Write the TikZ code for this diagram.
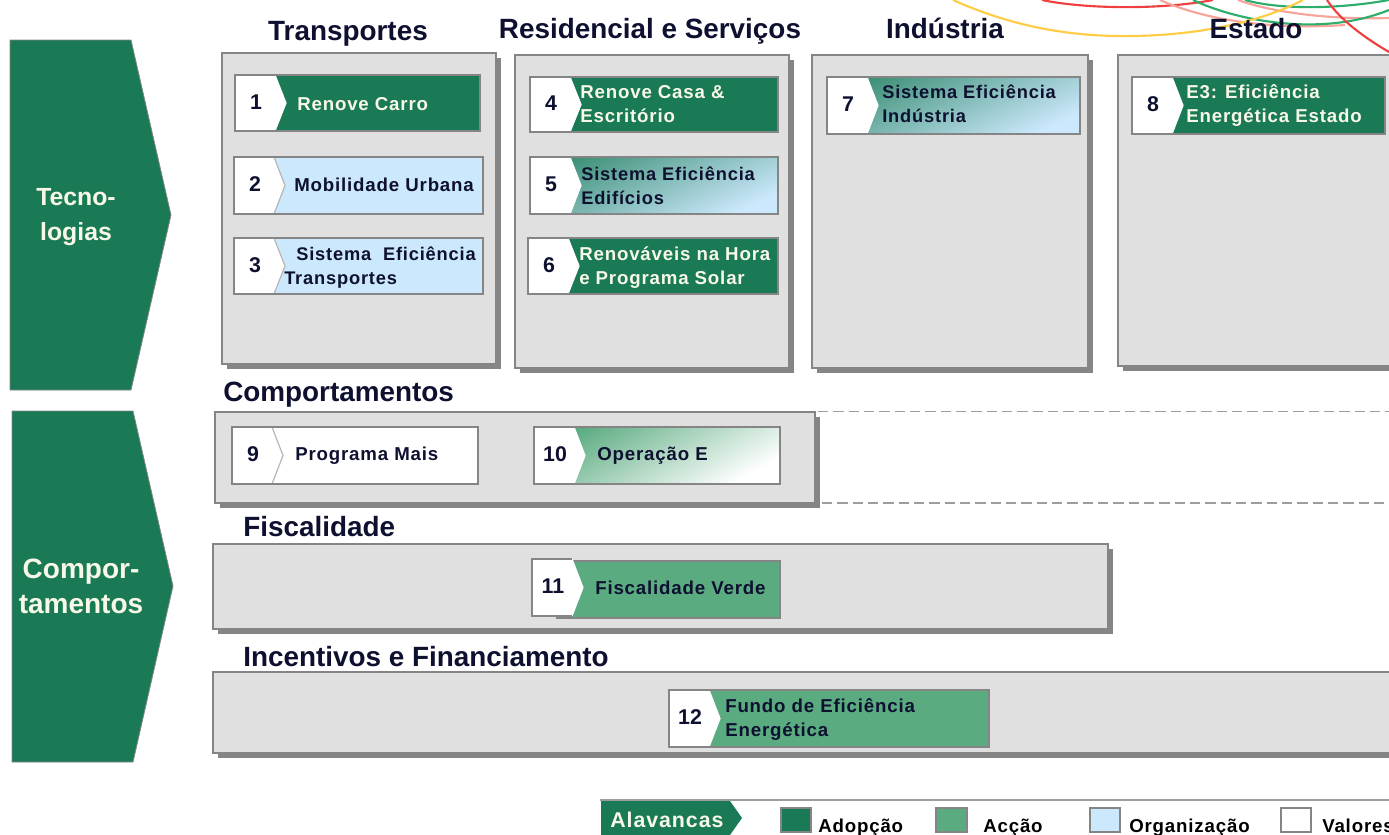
\documentclass[tikz,border=0pt]{standalone}
\usepackage{fontspec}
\setmainfont{Liberation Sans}
\newfontfamily\rotulofont{Liberation Sans}[LetterSpace=4.5]
\usetikzlibrary{shadows}

\definecolor{verdeadocao}{HTML}{1A7A55}
\definecolor{verdeaccao}{HTML}{5AAB80}
\definecolor{azulorg}{HTML}{CBE8FC}
\definecolor{cinzapainel}{HTML}{E0E0E0}
\definecolor{cinzaborda}{HTML}{858585}
\definecolor{tintaescura}{HTML}{0E1030}
\definecolor{tintaclara}{HTML}{F8F8E8}
\definecolor{curvaverde}{HTML}{2EAD6B}
\definecolor{curvavermelha}{HTML}{EE4040}
\definecolor{curvarosa}{HTML}{F7A59A}
\definecolor{curvaamarela}{HTML}{FFCC44}

\tikzset{
	painel/.style = {draw=cinzaborda, line width=1.2pt, fill=cinzapainel, inner sep=0pt, outer sep=0pt,
		general shadow={fill=cinzaborda, shadow xshift=3.4pt, shadow yshift=-3.4pt}},
	caixa/.style = {inner sep=0pt, outer sep=0pt},
	adopcao/.style = {caixa, fill=verdeadocao},
	accao/.style = {caixa, fill=verdeaccao},
	organizacao/.style = {caixa, fill=azulorg},
	valores/.style = {caixa, fill=white},
	misto/.style = {caixa, top color=verdeadocao!80!azulorg, middle color=azulorg!75!verdeadocao, bottom color=azulorg, shading angle=25},
	esbatido/.style = {caixa, top color=verdeaccao, bottom color=white, shading angle=30},
	contorno/.style = {draw=cinzaborda, line width=1pt},
	numero/.style = {font=\fontsize{16pt}{18pt}\bfseries\selectfont, text=tintaescura, inner sep=0pt},
	claro/.style = {font=\rotulofont\fontsize{14pt}{18pt}\bfseries\selectfont, text=tintaclara, anchor=west, align=left, inner sep=0pt},
	escuro/.style = {claro, text=tintaescura},
	estreito/.style = {escuro, font=\rotulofont\fontsize{13.7pt}{18pt}\bfseries\selectfont},
	titulo/.style = {font=\fontsize{20.9pt}{24pt}\bfseries\selectfont, text=tintaescura, inner sep=0pt, text height=15pt, text depth=4pt},
	eixo/.style = {text=tintaclara, align=center, inner sep=0pt},
	legenda/.style = {font=\rotulofont\fontsize{14pt}{18pt}\bfseries\selectfont, text=black, anchor=base west, inner sep=0pt},
	curva/.style = {line width=1.6pt},
	tracejado/.style = {draw=cinzaborda!80, line width=1.3pt, dash pattern=on 7.8pt off 3.7pt}
}

% caixa por cantos: estilo, nome, x1, y1, x2, y2
\newcommand{\caixaem}[6]{
	\node[#1, minimum width={(#5-#3)*0.75pt}, minimum height={(#6-#4)*0.75pt}] (#2) at ({(#3+#5)/2},{(#4+#6)/2}) {};
}
% etiqueta branca: nome, numero, x1, y1, y2, cor do bico
\newcommand{\etiqueta}[6]{
	\fill[white] (#3,#4) -- ({#3+40},#4) -- ({#3+51},{(#4+#5)/2}) -- ({#3+40},#5) -- (#3,#5) -- cycle;
	\draw[#6, line width=0.9pt] ({#3+40},#4) -- ({#3+51},{(#4+#5)/2}) -- ({#3+40},#5);
	\node[numero] (#1) at ({#3+21},{(#4+#5)/2-1}) {#2};
}
\newcommand{\alavanca}[7]{
	\caixaem{#1}{a#2}{#3}{#4}{#5}{#6}
	\etiqueta{n#2}{#2}{#3}{#4}{#6}{#7}
	\draw[contorno] (a#2.north west) rectangle (a#2.south east);
}

\begin{document}
\begin{tikzpicture}[x=0.75pt, y=-0.75pt]
	\path[use as bounding box, clip] (0,0) rectangle (1389,835);

	% curvas no topo
	\draw[curva, curvavermelha] (1042,0) .. controls (1085,9) and (1160,10) .. (1213,0);
	\draw[curva, curvarosa] (1160,0) .. controls (1205,20) and (1270,30) .. (1345,25);
	\draw[curva, curvarosa] (1238,0) .. controls (1270,12) and (1330,20) .. (1389,18);
	\draw[curva, curvaverde] (1193,0) .. controls (1235,20) and (1320,38) .. (1389,10);
	\draw[curva, curvaverde] (1245,0) .. controls (1280,10) and (1340,9) .. (1389,0);
	\draw[curva, curvaamarela] (953,0) .. controls (1020,30) and (1080,37) .. (1135,36) .. controls (1190,35) and (1255,25) .. (1303,0);
	\draw[curva, curvavermelha] (1327,0) .. controls (1340,20) and (1365,38) .. (1389,52);

	% eixos
	\fill[verdeadocao, draw=cinzaborda, line width=0.6pt] (10,40) -- (131,40) -- (171,215) -- (131,390) -- (10,390) -- cycle;
	\fill[verdeadocao, draw=cinzaborda, line width=0.6pt] (12,411) -- (133,411) -- (173,586) -- (133,762) -- (12,762) -- cycle;
	\node[eixo, font=\fontsize{18.6pt}{26.2pt}\bfseries\selectfont] (tec) at (76,217) {Tecno-\\logias};
	\node[eixo, font=\fontsize{21pt}{26.2pt}\bfseries\selectfont] (com) at (81,586) {Compor-\\tamentos};

	% titulos
	\node[titulo] (tTrans) at (348,33.5) {Transportes};
	\node[titulo] (tResid) at (650,31.5) {Residencial e Serviços};
	\node[titulo] (tInd) at (945,31) {Indústria};
	\node[titulo] (tEst) at (1256,31) {Estado};
	\node[titulo, anchor=west] (tComp) at (223,394) {Comportamentos};
	\node[titulo, anchor=west] (tFisc) at (243,529) {Fiscalidade};
	\node[titulo, anchor=west] (tInc) at (243,659) {Incentivos e Financiamento};

	% tracejados
	\coordinate (iniA) at (818,411.5);
	\coordinate (fimA) at (1389,411.5);
	\coordinate (iniB) at (822,503);
	\coordinate (fimB) at (1389,503);
	\draw[tracejado] (iniA) -- (fimA);
	\draw[tracejado] (iniB) -- (fimB);

	% paineis
	\caixaem{painel}{pTrans}{222}{53}{496}{364}
	\caixaem{painel}{pResid}{515}{55}{789}{368}
	\caixaem{painel}{pInd}{812}{55}{1088}{368}
	\caixaem{painel}{pEst}{1118}{55}{1410}{366}
	\caixaem{painel}{pComp}{215}{412}{815}{503}
	\caixaem{painel}{pFisc}{213}{544}{1108}{629}
	\caixaem{painel}{pInc}{213}{672}{1410}{753}

	% alavancas
	\alavanca{adopcao}{1}{235}{75}{480}{131}{white}
	\alavanca{organizacao}{2}{234}{157}{483}{214}{cinzaborda!60}
	\alavanca{organizacao}{3}{234}{238}{483}{294}{cinzaborda!60}
	\alavanca{adopcao}{4}{530}{77}{778}{132}{white}
	\alavanca{misto}{5}{530}{157}{778}{214}{white}
	\alavanca{adopcao}{6}{528}{238}{778}{294}{white}
	\alavanca{misto}{7}{827}{77}{1080}{134}{white}
	\alavanca{adopcao}{8}{1132}{77}{1385}{134}{white}
	\alavanca{valores}{9}{232}{427}{478}{484}{cinzaborda!60}
	\alavanca{esbatido}{10}{534}{427}{780}{484}{white}
	\caixaem{accao}{a11}{557}{561}{780}{618}
	\draw[contorno] (a11.north west) rectangle (a11.south east);
	\etiqueta{n11}{11}{532}{559}{616}{white}
	\draw[contorno] (572,559) -- (532,559) -- (532,616) -- (572,616);
	\alavanca{accao}{12}{669}{690}{989}{747}{white}

	\node[claro] (l1) at (297,104) {Renove Carro};
	\node[escuro] (l2) at (294,185) {Mobilidade Urbana};
	\node[estreito] (l3) at (284,268) {\hspace*{9pt}Sistema\ \ Eficiência\\Transportes};
	\node[claro] (l4) at (580,104) {Renove Casa \&\\Escritório};
	\node[estreito] (l5) at (581,186) {Sistema Eficiência\\Edifícios};
	\node[claro] (l6) at (579,268) {Renováveis na Hora\\e Programa Solar};
	\node[estreito] (l7) at (882,104) {Sistema Eficiência\\Indústria};
	\node[claro] (l8) at (1186,106) {E3: Eficiência\\Energética Estado};
	\node[escuro] (l9) at (295,456) {Programa Mais};
	\node[escuro] (l10) at (597,456) {Operação E};
	\node[escuro] (l11) at (595,588) {Fiscalidade Verde};
	\node[escuro] (l12) at (725,720) {Fundo de Eficiência\\Energética};

	% legenda
	\coordinate (iniL) at (600,800);
	\coordinate (fimL) at (1389,800);
	\draw[cinzaborda!80, line width=1.2pt] (iniL) -- (fimL);
	\fill[verdeadocao] (601,801) -- (730,801) -- (742,818) -- (730,835) -- (601,835) -- cycle;
	\node[claro, font=\rotulofont\fontsize{16pt}{18pt}\bfseries\selectfont] (lAlav) at (610,820) {Alavancas};
	\caixaem{adopcao, contorno}{qA}{781}{808}{811}{832}
	\caixaem{accao, contorno}{qB}{936}{808}{967}{832}
	\caixaem{organizacao, contorno}{qC}{1090}{808}{1120}{832}
	\caixaem{valores, contorno}{qD}{1281}{808}{1311}{832}
	\node[legenda] (lA) at (818,832) {Adopção};
	\node[legenda] (lB) at (983,832) {Acção};
	\node[legenda] (lC) at (1129,832) {Organização};
	\node[legenda] (lD) at (1322,832) {Valores};
\end{tikzpicture}
\end{document}
